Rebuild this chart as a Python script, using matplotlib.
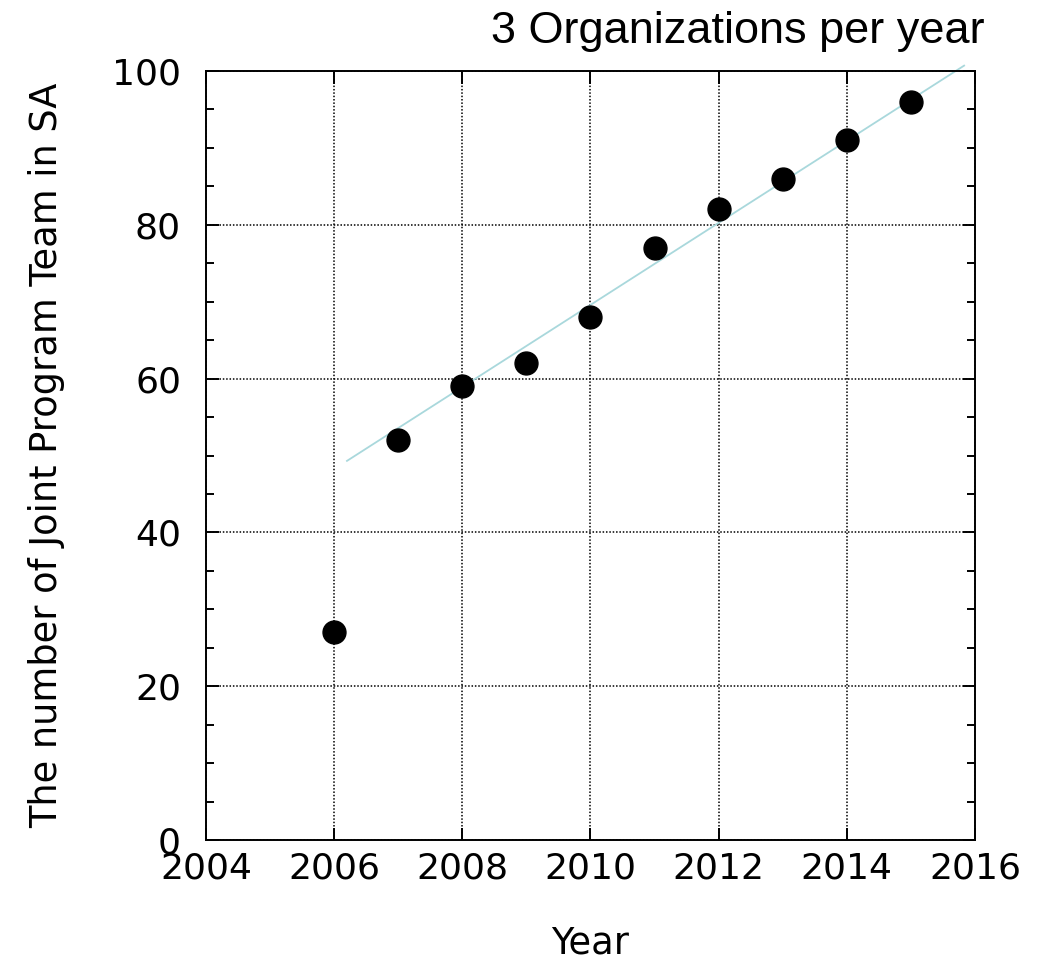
import numpy as np
import matplotlib
matplotlib.use("Agg")
import matplotlib.pyplot as plt
from matplotlib.ticker import MultipleLocator

# data
years = [2006, 2007, 2008, 2009, 2010, 2011, 2012, 2013, 2014, 2015]
teams = [27, 52, 59, 62, 68, 77, 82, 86, 91, 96]

# trend line end points
trend_x = [2006.2, 2015.83]
trend_y = [49.3, 100.7]

title = "3 Organizations per year"
xlabel = "Year"
ylabel = "The number of Joint Program Team in SA"

fig = plt.figure(figsize=(10.41, 9.67), dpi=100)
ax = fig.add_axes([206/1041, 1-840/967, (975-206)/1041, (840-71)/967])

ax.plot(trend_x, trend_y, '-', color='#a9d8dc', lw=1.3, clip_on=False, zorder=2)
ax.plot(years, teams, 'o', color='black', ms=16.5, zorder=3)

ax.set_xlim(2004, 2016)
ax.set_ylim(0, 100)
ax.xaxis.set_major_locator(MultipleLocator(2))
ax.yaxis.set_major_locator(MultipleLocator(20))
ax.yaxis.set_minor_locator(MultipleLocator(5))

ax.grid(True, which='major', color='black', linestyle=(0, (1, 1.2)), lw=1.1)
ax.set_axisbelow(True)

for s in ax.spines.values():
    s.set_linewidth(1.4)

ax.tick_params(axis='both', which='both', direction='in', top=True, right=True,
               labelsize=26, width=1.4)
ax.tick_params(axis='both', which='major', length=9)
ax.tick_params(axis='y', which='minor', length=6)
ax.tick_params(axis='y', which='major', pad=18)
ax.tick_params(axis='x', which='major', pad=8)

ax.set_xlabel(xlabel, fontsize=26.5, labelpad=28)
ax.set_ylabel(ylabel, fontsize=26.5, labelpad=34)

fig.text(985/1041, 1-43/967, title, ha='right', va='baseline',
         fontsize=32.5, family='Liberation Sans')

fig.savefig('out.png', dpi=100)
